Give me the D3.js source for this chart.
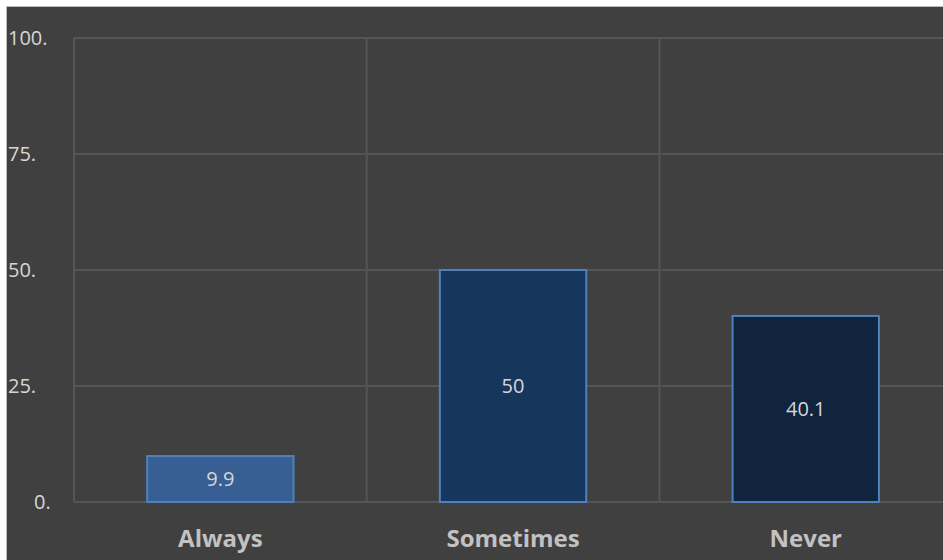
<!DOCTYPE html>
<html>
<head>
<meta charset="utf-8">
<script src="https://cdn.jsdelivr.net/npm/d3@7"></script>
<style>
  html, body { margin: 0; padding: 0; background: #ffffff; }
  svg { display: block; }
</style>
</head>
<body>
<svg id="chart" width="943" height="560"></svg>
<script>
// Response frequency (%)
const categories = ["Always", "Sometimes", "Never"];
const values = [9.9, 50, 40.1];
const valueLabels = ["9.9", "50", "40.1"];
const yTicks = [0, 25, 50, 75, 100];
const yTickLabels = ["0.", "25.", "50.", "75.", "100."];
const barFills = ["#375f93", "#17365d", "#10233f"];

const svg = d3.select("#chart");
const W = 943, H = 560;
const font = "'Open Sans', 'Liberation Sans', sans-serif";

// chart panel
svg.append("rect").attr("x", 6).attr("y", 6).attr("width", W - 6).attr("height", H - 6)
  .attr("fill", "#404040");
svg.append("line").attr("x1", 6).attr("x2", W).attr("y1", 6.5).attr("y2", 6.5)
  .attr("stroke", "#bdbdbd").attr("stroke-width", 1);
svg.append("line").attr("x1", 6.5).attr("x2", 6.5).attr("y1", 6).attr("y2", H)
  .attr("stroke", "#bdbdbd").attr("stroke-width", 1);

const plotLeft = 74, plotTop = 38, plotBottom = 502;
const bandW = 292.7;

const x = d3.scaleBand().domain(categories)
  .range([plotLeft, plotLeft + bandW * categories.length])
  .paddingInner(0).paddingOuter(0);
const y = d3.scaleLinear().domain([0, 100]).range([plotBottom, plotTop]);

const grid = svg.append("g");
// horizontal gridlines
grid.selectAll("line.h").data(yTicks).join("line")
  .attr("x1", plotLeft).attr("x2", W)
  .attr("y1", d => y(d)).attr("y2", d => y(d))
  .attr("stroke", "#555555").attr("stroke-width", 2);
// vertical gridlines at category boundaries
const bounds = categories.map(c => x(c)).concat([x(categories[categories.length - 1]) + x.bandwidth()]);
grid.selectAll("line.v").data(bounds).join("line")
  .attr("x1", d => d).attr("x2", d => d)
  .attr("y1", plotTop).attr("y2", plotBottom)
  .attr("stroke", "#555555").attr("stroke-width", 2);

// y tick labels
svg.append("g").selectAll("text").data(yTicks).join("text")
  .attr("x", d => d === 0 ? 34 : 8)
  .attr("y", d => y(d) + 7)
  .attr("font-family", font)
  .attr("font-size", 20)
  .attr("fill", "#d6d6d6")
  .text((d, i) => yTickLabels[i]);

// bars
const barW = x.bandwidth() / 2;
svg.append("g").selectAll("rect").data(values).join("rect")
  .attr("x", (d, i) => x(categories[i]) + (x.bandwidth() - barW) / 2)
  .attr("y", d => y(d))
  .attr("width", barW)
  .attr("height", d => y(0) - y(d))
  .attr("fill", (d, i) => barFills[i])
  .attr("stroke", "#4f81bd")
  .attr("stroke-width", 2);

// value labels centred inside bars
svg.append("g").selectAll("text").data(values).join("text")
  .attr("x", (d, i) => x(categories[i]) + x.bandwidth() / 2)
  .attr("y", d => (y(d) + y(0)) / 2 + 7)
  .attr("text-anchor", "middle")
  .attr("font-family", font)
  .attr("font-size", 20)
  .attr("fill", "#d6d6d6")
  .text((d, i) => valueLabels[i]);

// category labels
svg.append("g").selectAll("text").data(categories).join("text")
  .attr("x", d => x(d) + x.bandwidth() / 2)
  .attr("y", 547)
  .attr("text-anchor", "middle")
  .attr("font-family", font)
  .attr("font-weight", "bold")
  .attr("font-size", 24)
  .attr("fill", "#c2c2c2")
  .text(d => d);
</script>
</body>
</html>
